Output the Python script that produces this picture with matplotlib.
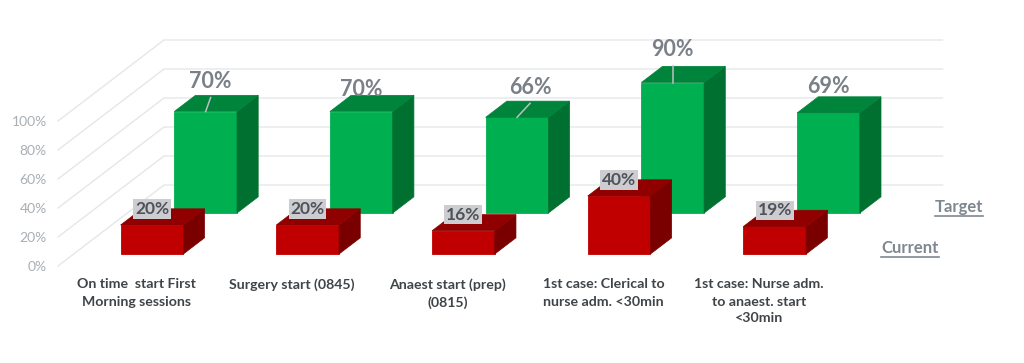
import matplotlib
matplotlib.use('Agg')
import matplotlib.pyplot as plt
from matplotlib.patches import Polygon

# Data
categories = ['On time  start First\nMorning sessions', 'Surgery start (0845)', 'Anaest start (prep)\n(0815)',
              '1st case: Clerical to\nnurse adm. <30min', '1st case: Nurse adm.\nto anaest. start\n<30min']
current = [20, 20, 16, 40, 19]
target = [70, 70, 66, 90, 69]
y_ticks = [0, 20, 40, 60, 80, 100]

# Label placement above the target bars (pixels), and which ones have a leader line
target_label_dx = [5, 0, 13, 0, 0]
target_label_dy = [30, 22, 30, 33, 26]
target_leader = [True, False, True, True, False]

plt.rcParams['font.family'] = ['Lato', 'DejaVu Sans']

W, H = 1024, 363
fig = plt.figure(figsize=(W / 100, H / 100), dpi=100)

# One x unit is one category, one y unit is one percent on the front plane
px_x = 155.7
px_y = 1.45
ax = fig.add_axes([58 / W, (H - 266) / H, (W - 58) / W, 266 / H])
ax.set_xlim((58 - 136.3) / px_x, (W - 136.3) / px_x)
ax.set_ylim(0, 266 / px_y)
ax.patch.set_alpha(0)
for s in ax.spines.values():
    s.set_visible(False)

# Oblique depth: going to the back wall moves 106 px right and 81 px up
depth_x = 106 / px_x
depth_y = 81 / px_y


def proj(x, y, d):
    return (x + d * depth_x, y + d * depth_y)


def bar3d(i, value, d, width, front, side, top):
    bar_d = 0.2
    x0, x1 = i - width / 2, i + width / 2
    a = proj(x0, 0, d)
    b = proj(x1, 0, d)
    c = proj(x1, value, d)
    e = proj(x0, value, d)
    ax.add_patch(Polygon([a, b, c, e], fc=front, ec=front, lw=0.6, zorder=3 + d * -1))
    ax.add_patch(Polygon([b, proj(x1, 0, d + bar_d), proj(x1, value, d + bar_d), c], fc=side, ec=side, lw=0.5, zorder=3 - d))
    ax.add_patch(Polygon([e, c, proj(x1, value, d + bar_d), proj(x0, value, d + bar_d)], fc=top, ec=top, lw=0.5, zorder=3 - d))
    return e, c


# Grid on the wall and the left side
x_left = ax.get_xlim()[0]
x_right = x_left + len(categories)
for v in y_ticks:
    p0 = proj(x_left, v, 0)
    p1 = proj(x_left, v, 1)
    p2 = proj(x_right, v, 1)
    ax.plot([p0[0], p1[0], p2[0]], [p0[1], p1[1], p2[1]], color='#e4e7e9', lw=1.0, zorder=1, clip_on=False)

bar_w = 0.403
d_target = 0.654
d_current = 0.148

for i in range(len(categories)):
    e, c = bar3d(i, target[i], d_target, bar_w, '#00b050', '#007030', '#00843c')
    mx = (e[0] + c[0]) / 2
    lx = mx + target_label_dx[i] / px_x
    ly = e[1] + target_label_dy[i] / px_y
    ax.text(lx, ly, '%d%%' % target[i], ha='center', va='center', fontsize=15.5, fontweight='bold',
            color='#798087', zorder=6)
    if target_leader[i]:
        ax.plot([mx, lx], [e[1], ly - 16 / px_y], color='#bfbfbf', lw=1.1, zorder=5)

for i in range(len(categories)):
    e, c = bar3d(i, current[i], d_current, bar_w, '#c00000', '#7a0000', '#900000')
    mx = (e[0] + c[0]) / 2
    ax.text(mx, current[i] + (d_current + 0.2) * depth_y, '%d%%' % current[i], ha='center', va='center',
            fontsize=12.5, fontweight='bold', color='#4d5359', zorder=7,
            bbox=dict(boxstyle='square,pad=0.1', fc='#cdcdd1', ec='none'))

# Axis labels
ax.set_yticks(y_ticks)
ax.set_yticklabels(['%d%%' % v for v in y_ticks], fontsize=10, color='#a9afb5')
ax.set_xticks(range(len(categories)))
ax.set_xticklabels(categories, fontsize=10.2, fontweight='bold', color='#3f4448', linespacing=1.5)
ax.tick_params(axis='y', length=0, pad=8)
ax.tick_params(axis='x', length=0, pad=9)

# Series names on the depth axis, underlined
fig.canvas.draw()
renderer = fig.canvas.get_renderer()
for name, d in [('Target', d_target), ('Current', d_current)]:
    p = proj(x_right, 0, d)
    t = ax.annotate(name, xy=p, xytext=(21, 4), textcoords='offset points', fontsize=12, fontweight='bold',
                    color='#7f8790', ha='left', va='center', annotation_clip=False)
    box = t.get_window_extent(renderer)
    (xa, ya), (xb, yb) = ax.transData.inverted().transform([(box.x0, box.y0 - 1), (box.x1, box.y0 - 1)])
    ax.plot([xa, xb], [ya, yb], color='#7f8790', lw=1.2, clip_on=False)

fig.savefig('out.png', dpi=100)
